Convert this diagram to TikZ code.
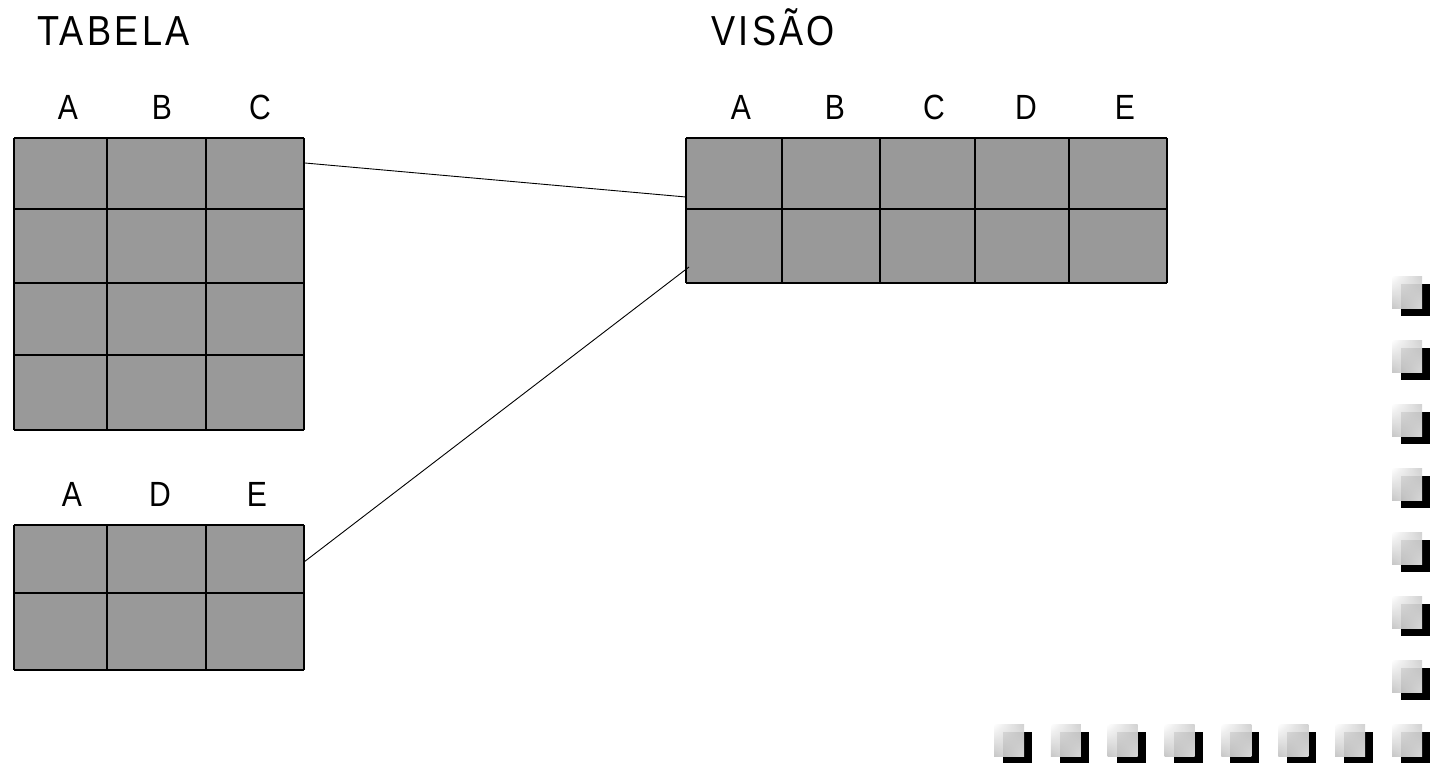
\documentclass[tikz,border=0pt]{standalone}
\usepackage{fontspec}
\usetikzlibrary{shadings}
\setmainfont{Liberation Sans}
\newfontfamily\titlefont[FakeStretch=0.86,LetterSpace=8]{Liberation Sans}
\newfontfamily\colfont[FakeStretch=0.86]{Liberation Sans}
\definecolor{cellgray}{HTML}{999999}
\newcommand\decosq[2]{%
  \fill[black] (#1+9,#2+8) rectangle ++(29,32);
  \shade[fill opacity=0.92, upper left=white, upper right=black!20,
         lower left=black!24, lower right=black!8] (#1,#2) rectangle ++(30,32);
}
\begin{document}
\begin{tikzpicture}[x=1pt,y=-1pt,
  gridfill/.style={fill=cellgray},
  gridline/.style={draw=black, line width=1.1pt},
  conn/.style={draw=black, line width=0.9pt},
  title/.style={anchor=base west, inner sep=0pt, font=\titlefont\fontsize{42}{42}\selectfont},
  collabel/.style={anchor=base, inner sep=0pt, font=\colfont\fontsize{35}{35}\selectfont}]
\useasboundingbox (0,0) rectangle (1438,763);

% titles
\node[title] (ttabela) at (37,45) {TABELA};
\node[title] (tvisao) at (711,45) {VISÃO};

% table 1 (A B C)
\node[collabel] (t1a) at (68,119) {A};
\node[collabel] (t1b) at (162,119) {B};
\node[collabel] (t1c) at (260,119) {C};
\fill[gridfill] (14,138) rectangle (304,430);
\foreach \xx in {14,107,206,304} \draw[gridline] (\xx,138) -- (\xx,430);
\foreach \yy in {138,209,283,355,430} \draw[gridline] (14,\yy) -- (304,\yy);

% table 2 (A D E)
\node[collabel] (t2a) at (72,506) {A};
\node[collabel] (t2d) at (160,506) {D};
\node[collabel] (t2e) at (257,506) {E};
\fill[gridfill] (14,525) rectangle (304,670);
\foreach \xx in {14,107,206,304} \draw[gridline] (\xx,525) -- (\xx,670);
\foreach \yy in {525,593,670} \draw[gridline] (14,\yy) -- (304,\yy);

% view table (A B C D E)
\node[collabel] (v1a) at (741,119) {A};
\node[collabel] (v1b) at (835,119) {B};
\node[collabel] (v1c) at (934,119) {C};
\node[collabel] (v1d) at (1026,119) {D};
\node[collabel] (v1e) at (1125,119) {E};
\fill[gridfill] (686,138) rectangle (1167,283);
\foreach \xx in {686,782,880,975,1069,1167} \draw[gridline] (\xx,138) -- (\xx,283);
\foreach \yy in {138,209,283} \draw[gridline] (686,\yy) -- (1167,\yy);

% connectors
\coordinate (c1s) at (305,163);
\coordinate (c1e) at (686,197);
\coordinate (c2s) at (304,562);
\coordinate (c2e) at (689,267);
\draw[conn] (c1s) -- (c1e);
\draw[conn] (c2s) -- (c2e);

% decorative squares
\foreach \k in {0,...,6} {\decosq{1392}{276+64*\k}}
\foreach \k in {0,...,7} {\decosq{994+56.857*\k}{724}}
\end{tikzpicture}
\end{document}
